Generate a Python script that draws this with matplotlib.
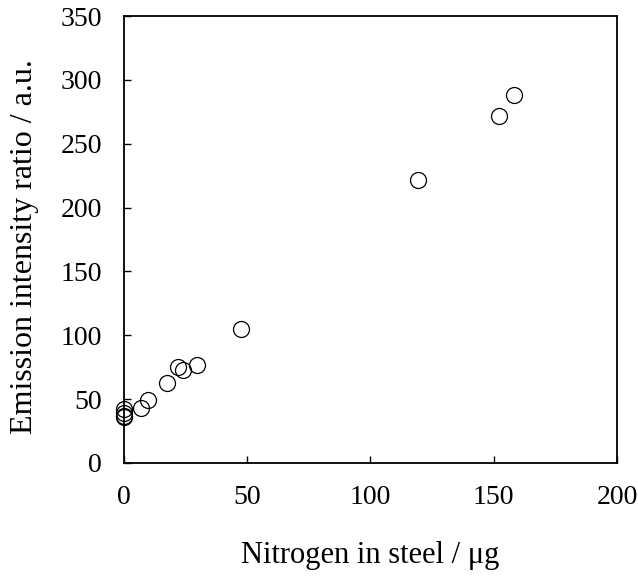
import matplotlib.pyplot as plt

plt.rcParams['font.family'] = ['Liberation Serif', 'DejaVu Serif']
plt.rcParams['mathtext.fontset'] = 'stix'

# nitrogen mass (ug) vs emission intensity ratio
nitrogen_ug = [0, 0, 0, 0, 6.9, 9.9, 17.3, 22.0, 23.8, 29.5, 47.5, 119.4, 152.0, 158.3]
intensity_ratio = [42, 39, 37, 36, 43.3, 49.3, 62.9, 75.4, 72.8, 76.7, 105, 222, 272, 288]

fig = plt.figure(figsize=(6.38, 5.76), dpi=100)
ax = fig.add_axes([0.1944, 0.1962, 0.7726, 0.7758])

ax.plot(nitrogen_ug, intensity_ratio, linestyle='none', marker='o', markersize=11.5,
        markerfacecolor='none', markeredgecolor='black', markeredgewidth=0.9, clip_on=False)

ax.set_xlim(0, 200)
ax.set_ylim(0, 350)
ax.set_xticks([0, 50, 100, 150, 200])
ax.set_yticks(range(0, 351, 50))
ax.tick_params(direction='in', length=5, width=1, labelsize=20, pad=16)

for spine in ax.spines.values():
    spine.set_linewidth(1.3)

ax.set_xlabel('Nitrogen in steel / μg', fontsize=22, labelpad=22)
ax.set_ylabel('Emission intensity ratio / a.u.', fontsize=23)
ax.yaxis.set_label_coords(-0.172, 0.485)

fig.savefig('out.png', dpi=100)
